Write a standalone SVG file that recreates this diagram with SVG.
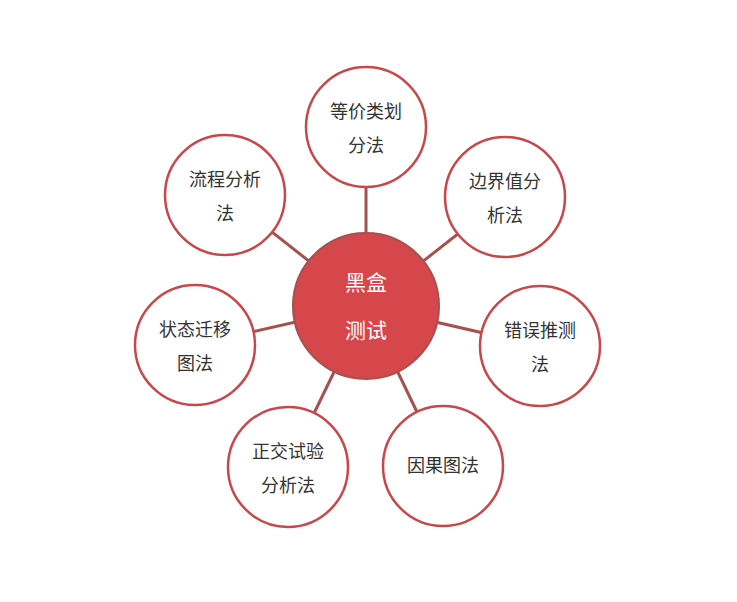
<svg xmlns="http://www.w3.org/2000/svg" width="737" height="602" viewBox="0 0 737 602">
<style>
.sat{fill:#fff;stroke:#c8474b;stroke-width:2.5}
.t{font-family:"Noto Sans CJK SC",sans-serif;font-size:18px;fill:#333;text-anchor:middle}
.c{font-family:"Noto Sans CJK SC",sans-serif;font-size:21px;fill:#fff;text-anchor:middle}
line{stroke:#a5514f;stroke-width:3}
</style>
<rect width="737" height="602" fill="#fff"/>
<g id="connectors">
<line x1="366" y1="306" x2="366" y2="127"/>
<line x1="366" y1="306" x2="505" y2="197"/>
<line x1="366" y1="306" x2="540" y2="346"/>
<line x1="366" y1="306" x2="443" y2="466"/>
<line x1="366" y1="306" x2="288" y2="467"/>
<line x1="366" y1="306" x2="195" y2="345"/>
<line x1="366" y1="306" x2="225" y2="195"/>
</g>
<g id="n1"><circle class="sat" cx="366" cy="127" r="60"/><text class="t" x="366" y="118">等价类划</text><text class="t" x="366" y="152">分法</text></g>
<g id="n2"><circle class="sat" cx="505" cy="197" r="60"/><text class="t" x="505" y="188">边界值分</text><text class="t" x="505" y="222">析法</text></g>
<g id="n3"><circle class="sat" cx="540" cy="346" r="60"/><text class="t" x="540" y="337">错误推测</text><text class="t" x="540" y="371">法</text></g>
<g id="n4"><circle class="sat" cx="443" cy="466" r="60"/><text class="t" x="443" y="472">因果图法</text></g>
<g id="n5"><circle class="sat" cx="288" cy="467" r="60"/><text class="t" x="288" y="458">正交试验</text><text class="t" x="288" y="492">分析法</text></g>
<g id="n6"><circle class="sat" cx="195" cy="345" r="60"/><text class="t" x="195" y="336">状态迁移</text><text class="t" x="195" y="370">图法</text></g>
<g id="n7"><circle class="sat" cx="225" cy="195" r="60"/><text class="t" x="225" y="186">流程分析</text><text class="t" x="225" y="220">法</text></g>
<g id="center"><circle cx="366" cy="306" r="73" fill="#d5474a" stroke="#a5514f" stroke-width="2"/><text class="c" x="366" y="290">黑盒</text><text class="c" x="366" y="338">测试</text></g>
</svg>
